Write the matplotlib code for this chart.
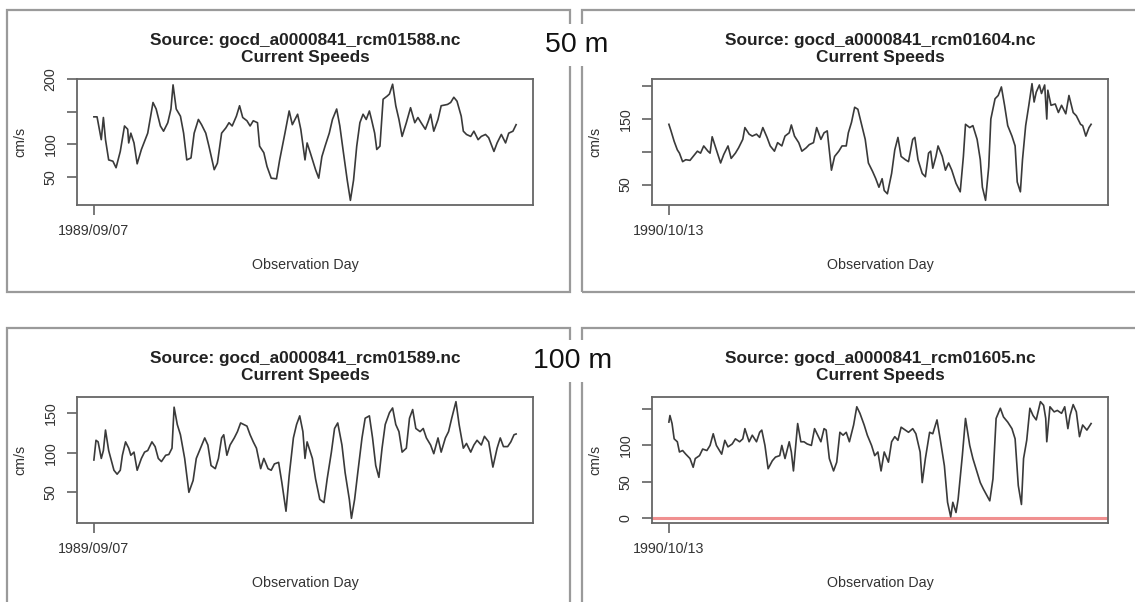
import matplotlib
matplotlib.use("Agg")
import matplotlib.pyplot as plt
from matplotlib.patches import Rectangle

plt.rcParams['font.family'] = ['Liberation Sans', 'DejaVu Sans']

# ---------------- data ----------------
titles = ["Source: gocd_a0000841_rcm01588.nc\nCurrent Speeds",
          "Source: gocd_a0000841_rcm01604.nc\nCurrent Speeds",
          "Source: gocd_a0000841_rcm01589.nc\nCurrent Speeds",
          "Source: gocd_a0000841_rcm01605.nc\nCurrent Speeds"]
start_dates = ["1989/09/07", "1990/10/13", "1989/09/07", "1990/10/13"]
depth_labels = ["50 m", "100 m"]

days1 = [0, 3, 7, 9, 11, 14, 18, 21, 25, 29, 32, 33, 35, 38, 41, 45, 51, 56, 59, 63, 66, 70, 73, 75, 78, 82, 85, 88,
         92, 95, 99, 102, 106, 109, 114, 117, 121, 125, 128, 131, 135, 138, 141, 145, 148, 151, 155, 157, 161, 164,
         168, 173, 176, 181, 185, 188, 193, 196, 200, 202, 205, 210, 213, 216, 219, 223, 226, 230, 233, 236, 240,
         243, 246, 249, 252, 255, 258, 261, 263, 266, 268, 271, 274, 278, 280, 283, 286, 289, 292, 296, 300, 304,
         307, 310, 314, 317, 319, 322, 326, 329, 335, 338, 341, 344, 348, 350, 353, 357, 360, 364, 367, 371, 374,
         379, 382, 386, 390, 393, 397, 400]
speed1 = [142, 142, 107, 141, 107, 76, 74, 64, 89, 128, 123, 102, 117, 102, 70, 92, 117, 164, 154, 128, 120, 133,
          154, 191, 154, 143, 117, 76, 79, 117, 138, 130, 117, 97, 61, 71, 117, 125, 133, 128, 143, 159, 141, 136,
          128, 136, 133, 97, 87, 66, 48, 47, 76, 117, 151, 130, 146, 123, 76, 102, 87, 61, 48, 81, 97, 117, 138,
          154, 128, 92, 45, 14, 45, 97, 133, 146, 138, 151, 138, 117, 92, 97, 169, 174, 177, 192, 159, 138, 112,
          133, 156, 133, 141, 133, 123, 136, 146, 120, 138, 159, 161, 164, 172, 166, 143, 120, 115, 112, 120, 107,
          112, 115, 110, 89, 102, 115, 102, 117, 120, 130]

days2 = [0, 2, 5, 8, 10, 13, 16, 20, 23, 27, 30, 33, 37, 39, 41, 45, 49, 52, 56, 59, 63, 66, 70, 72, 76, 79, 83, 86,
         89, 93, 96, 100, 103, 107, 110, 114, 116, 119, 123, 126, 130, 133, 137, 140, 144, 147, 150, 154, 157, 161,
         164, 168, 170, 173, 176, 179, 182, 186, 189, 193, 196, 199, 202, 204, 207, 211, 214, 217, 220, 224, 227,
         231, 233, 236, 240, 243, 246, 248, 250, 253, 255, 259, 262, 265, 268, 272, 276, 279, 281, 285, 288, 292,
         295, 297, 300, 303, 305, 309, 312, 315, 318, 321, 325, 328, 330, 333, 335, 338, 341, 344, 346, 348, 351,
         353, 356, 358, 359, 362, 366, 369, 372, 376, 379, 383, 386, 390, 392, 395, 398, 400]
speed2 = [142, 132, 116, 103, 98, 85, 88, 87, 93, 101, 98, 109, 101, 98, 123, 103, 83, 96, 109, 90, 98, 106, 119,
          137, 127, 124, 127, 122, 137, 122, 109, 101, 114, 109, 124, 129, 141, 124, 114, 101, 106, 111, 114, 137,
          119, 129, 132, 72, 93, 101, 109, 109, 129, 145, 168, 165, 145, 119, 83, 70, 59, 46, 59, 41, 36, 67, 103,
          122, 93, 88, 85, 119, 122, 88, 67, 62, 98, 101, 75, 93, 109, 93, 72, 83, 72, 52, 39, 93, 142, 137, 140,
          119, 88, 46, 26, 77, 150, 181, 186, 199, 171, 140, 124, 109, 54, 39, 88, 140, 171, 204, 176, 191, 202,
          189, 202, 150, 194, 171, 173, 160, 171, 158, 186, 160, 155, 142, 140, 124, 137, 142]

days3 = [0, 2, 4, 7, 9, 11, 14, 16, 19, 22, 25, 27, 30, 33, 35, 38, 41, 45, 48, 51, 55, 58, 61, 64, 68, 71, 74, 76,
         79, 82, 86, 90, 94, 97, 101, 105, 108, 111, 115, 118, 121, 123, 126, 129, 133, 136, 139, 142, 145, 148,
         151, 154, 158, 161, 165, 168, 171, 175, 178, 182, 185, 189, 192, 195, 198, 200, 202, 207, 210, 214, 218,
         221, 225, 228, 231, 235, 238, 242, 244, 247, 250, 254, 257, 261, 264, 267, 270, 273, 276, 280, 283, 286,
         289, 292, 296, 299, 302, 305, 309, 312, 315, 319, 322, 326, 329, 333, 336, 339, 343, 346, 350, 353, 357,
         360, 363, 367, 370, 374, 378, 382, 385, 388, 392, 395, 398, 400]
speed3 = [91, 116, 114, 93, 103, 129, 103, 93, 78, 73, 78, 97, 114, 106, 97, 101, 78, 93, 101, 103, 114, 108, 93,
          89, 97, 98, 106, 158, 136, 123, 93, 50, 65, 93, 106, 119, 110, 84, 80, 93, 119, 123, 97, 110, 119, 127,
          138, 136, 134, 123, 114, 106, 80, 93, 80, 78, 86, 88, 63, 26, 71, 119, 136, 147, 127, 93, 114, 93, 67,
          41, 37, 67, 101, 131, 138, 110, 75, 41, 17, 41, 75, 119, 144, 147, 119, 84, 69, 106, 136, 151, 157, 136,
          127, 101, 106, 144, 155, 131, 127, 131, 119, 110, 99, 119, 101, 119, 127, 144, 165, 136, 106, 112, 101,
          110, 116, 110, 121, 114, 82, 106, 119, 108, 108, 114, 123, 124]

days4 = [0, 1, 3, 5, 8, 10, 13, 16, 20, 23, 25, 29, 32, 36, 39, 42, 45, 50, 53, 56, 60, 63, 67, 70, 72, 76, 79, 83,
         86, 88, 91, 94, 98, 101, 105, 107, 110, 114, 116, 118, 122, 125, 128, 131, 135, 138, 141, 144, 147, 149,
         152, 156, 159, 162, 165, 168, 171, 175, 178, 181, 185, 188, 192, 195, 198, 201, 204, 208, 211, 214, 217,
         220, 224, 227, 231, 234, 238, 240, 243, 247, 250, 254, 257, 261, 264, 267, 269, 272, 274, 278, 281, 285,
         288, 292, 295, 298, 304, 307, 310, 314, 317, 321, 325, 328, 331, 334, 336, 339, 342, 345, 348, 352, 355,
         357, 358, 361, 365, 368, 372, 375, 378, 380, 383, 386, 389, 392, 396, 400]
speed4 = [132, 141, 130, 109, 105, 91, 93, 88, 82, 70, 82, 86, 95, 93, 100, 116, 100, 88, 107, 98, 102, 109, 105,
          109, 123, 105, 114, 105, 118, 121, 100, 68, 79, 84, 86, 100, 82, 105, 91, 65, 130, 105, 105, 102, 100,
          123, 114, 105, 123, 121, 82, 65, 77, 118, 114, 118, 105, 128, 153, 144, 128, 114, 100, 86, 91, 65, 91,
          77, 105, 112, 107, 125, 121, 118, 123, 116, 91, 49, 82, 118, 116, 135, 109, 72, 22, 2, 22, 8, 26, 86,
          137, 100, 82, 63, 49, 40, 24, 54, 137, 151, 139, 132, 123, 109, 45, 19, 82, 107, 151, 141, 135, 160, 155,
          137, 105, 153, 146, 148, 144, 153, 123, 141, 156, 146, 112, 128, 121, 130]

series_days = [days1, days2, days3, days4]
series_speed = [speed1, speed2, speed3, speed4]
yticks = [[50, 100, 150, 200], [50, 100, 150, 200], [50, 100, 150], [0, 50, 100, 150]]
yticklabels = [["50", "100", "", "200"], ["50", "", "150", ""], ["50", "100", "150"], ["0", "50", "100", ""]]

# ---------------- layout ----------------
W, H = 1135, 602
fig = plt.figure(figsize=(W / 100, H / 100), dpi=100)
fig.patch.set_facecolor('white')

def fx(x):
    return x / W

def fy(y):
    return 1 - y / H

panel_origins = [(7, 10), (582, 10), (7, 328), (582, 328)]
panel_w, panel_h = 563, 282

for (px, py) in panel_origins:
    fig.add_artist(Rectangle((fx(px), fy(py + panel_h)), panel_w / W, panel_h / H,
                             transform=fig.transFigure, fill=False,
                             edgecolor='#9a9a9a', linewidth=1.6, zorder=0))

axis_font = 10.3
for i, (px, py) in enumerate(panel_origins):
    left, right = px + 70, px + 526
    top, bottom = py + 69, py + 195
    ax = fig.add_axes([fx(left), fy(bottom), (right - left) / W, (bottom - top) / H])
    ax.plot(series_days[i], series_speed[i], color='#3a3a3a', linewidth=1.2)
    if i == 3:
        ax.axhline(0, color='#f09090', linewidth=2.2, zorder=0)
    ax.margins(x=0.04, y=0.04)
    ax.set_xticks([0])
    ax.set_xticklabels([start_dates[i]], fontsize=axis_font, color='#333333')
    ax.set_yticks(yticks[i])
    ax.set_yticklabels(yticklabels[i], fontsize=axis_font, rotation=90, va='center', color='#333333')
    ax.tick_params(axis='both', length=7, width=1.1, color='#555555')
    ax.tick_params(axis='y', pad=7)
    ax.tick_params(axis='x', pad=7)
    for s in ax.spines.values():
        s.set_color('#666666')
        s.set_linewidth(1.3)
    ax.set_title(titles[i], fontsize=12.4, fontweight='bold', pad=12, color='#222222', linespacing=1.2)
    ax.set_xlabel("Observation Day", fontsize=axis_font, color='#333333')
    ax.xaxis.set_label_coords(0.5, -60 / 126)
    ax.xaxis.label.set_va('center')
    ax.set_ylabel("cm/s", fontsize=axis_font, color='#333333')
    ax.yaxis.set_label_coords(-57 / 456, 0.5)
    ax.yaxis.label.set_va('center')

fig.text(fx(577), fy(45), depth_labels[0], fontsize=20.5, ha='center', va='center', color='#111111',
         bbox=dict(facecolor='white', edgecolor='none', pad=6))
fig.text(fx(573), fy(361), depth_labels[1], fontsize=20.5, ha='center', va='center', color='#111111',
         bbox=dict(facecolor='white', edgecolor='none', pad=6))

fig.savefig("out.png", dpi=100, facecolor='white')
